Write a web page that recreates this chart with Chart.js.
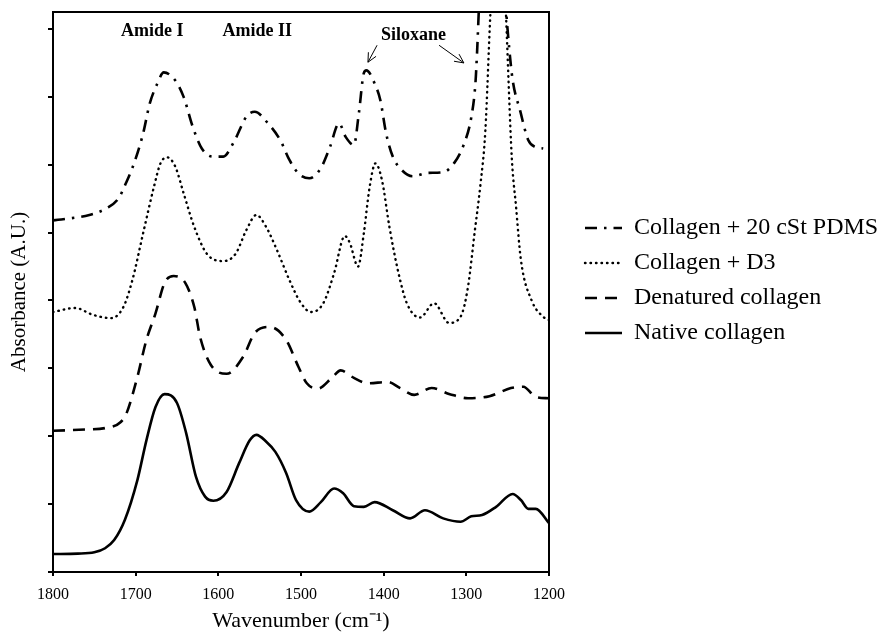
<!DOCTYPE html>
<html>
<head>
<meta charset="utf-8">
<script src="https://cdn.jsdelivr.net/npm/chart.js@4.4.0/dist/chart.umd.min.js"></script>
<style>
  body { margin: 0; background: #fff; }
  #wrap { width: 879px; height: 633px; }
</style>
</head>
<body>
<div id="wrap"><canvas id="myChart"></canvas></div>
<script>
// wavenumbers (cm-1) and absorbance (offset, arbitrary units)
var nativeWn  = [1800, 1770, 1750, 1737, 1726, 1713, 1698, 1687, 1676, 1665, 1650, 1639, 1627, 1616, 1606, 1590, 1575, 1562, 1554, 1542, 1531, 1518, 1506, 1490, 1476, 1460, 1449, 1436, 1424, 1411, 1389, 1368, 1350, 1328, 1307, 1294, 1281, 1264, 1244, 1234, 1225, 1216, 1200];
var nativeAbs = [0.265, 0.27, 0.29, 0.35, 0.47, 0.77, 1.35, 1.94, 2.43, 2.62, 2.49, 2.05, 1.40, 1.11, 1.05, 1.18, 1.60, 1.94, 2.02, 1.92, 1.77, 1.46, 1.06, 0.89, 1.03, 1.23, 1.16, 0.97, 0.96, 1.03, 0.91, 0.79, 0.91, 0.79, 0.74, 0.82, 0.84, 0.96, 1.15, 1.06, 0.93, 0.93, 0.72];

var denatWn  = [1800, 1760, 1737, 1718, 1711, 1698, 1687, 1676, 1665, 1654, 1640, 1629, 1622, 1609, 1590, 1570, 1556, 1538, 1518, 1503, 1493, 1480, 1462, 1452, 1436, 1419, 1395, 1380, 1363, 1342, 1320, 1298, 1272, 1246, 1231, 1216, 1200];
var denatAbs = [2.08, 2.10, 2.12, 2.21, 2.34, 2.87, 3.42, 3.81, 4.26, 4.36, 4.26, 3.90, 3.46, 3.05, 2.92, 3.17, 3.52, 3.61, 3.42, 3.02, 2.78, 2.70, 2.87, 2.97, 2.86, 2.78, 2.80, 2.71, 2.61, 2.71, 2.62, 2.56, 2.59, 2.71, 2.73, 2.58, 2.56];

var d3Wn  = [1800, 1773, 1752, 1730, 1715, 1704, 1691, 1678, 1670, 1662, 1652, 1642, 1629, 1614, 1594, 1579, 1566, 1554, 1542, 1529, 1514, 1501, 1488, 1473, 1460, 1447, 1441, 1431, 1424, 1417, 1410, 1402, 1393, 1382, 1372, 1356, 1339, 1321, 1307, 1298, 1290, 1283, 1277, 1271, 1266, 1261, 1256, 1252, 1245, 1240, 1234, 1221, 1207, 1200];
var d3Abs = [3.83, 3.89, 3.79, 3.74, 3.90, 4.30, 4.99, 5.67, 6.02, 6.11, 5.97, 5.58, 5.08, 4.69, 4.58, 4.69, 5.04, 5.26, 5.08, 4.74, 4.30, 3.98, 3.83, 3.96, 4.40, 4.95, 4.85, 4.50, 4.99, 5.67, 6.02, 5.77, 5.08, 4.40, 3.96, 3.75, 3.96, 3.67, 3.76, 4.20, 5.00, 5.70, 6.50, 8.20, 9.30, 9.60, 9.30, 8.20, 6.10, 5.40, 4.60, 4.00, 3.76, 3.71];

var pdmsWn  = [1800, 1756, 1735, 1721, 1711, 1702, 1691, 1683, 1674, 1666, 1652, 1642, 1631, 1620, 1607, 1594, 1581, 1566, 1556, 1540, 1525, 1514, 1503, 1490, 1476, 1465, 1454, 1446, 1436, 1430, 1424, 1421, 1410, 1404, 1397, 1389, 1378, 1365, 1346, 1328, 1315, 1303, 1294, 1289, 1287, 1284, 1276, 1268, 1258, 1252, 1248, 1244, 1235, 1225, 1216, 1207];
var pdmsAbs = [5.18, 5.26, 5.36, 5.50, 5.75, 6.02, 6.46, 6.90, 7.19, 7.36, 7.24, 7.00, 6.56, 6.24, 6.12, 6.12, 6.34, 6.71, 6.78, 6.61, 6.36, 6.07, 5.87, 5.80, 5.95, 6.26, 6.61, 6.41, 6.29, 6.76, 7.35, 7.39, 7.17, 6.95, 6.46, 6.12, 5.92, 5.83, 5.88, 5.89, 6.02, 6.30, 6.70, 7.20, 7.66, 8.50, 9.60, 9.90, 9.60, 8.30, 7.70, 7.25, 6.80, 6.36, 6.26, 6.24];

var seriesNames = ['Native collagen', 'Denatured collagen', 'Collagen + D3', 'Collagen + 20 cSt PDMS'];

var xTicks = [1800, 1700, 1600, 1500, 1400, 1300, 1200];

// band labels and arrows, in data units
var labelText = ['Amide I', 'Amide II', 'Siloxane'];
var labelWn   = [1680, 1553, 1364];
var labelAbs  = [7.97, 7.97, 7.91];
var arrowFromWn  = [1408, 1333];
var arrowFromAbs = [7.76, 7.76];
var arrowToWn    = [1419, 1303];
var arrowToAbs   = [7.51, 7.50];

function pts(wn, ab) {
  return wn.map(function(w, i) { return {x: w, y: ab[i]}; });
}

var serif = '"Liberation Serif", "Times New Roman", serif';

var extras = {
  id: 'extras',
  afterLayout: function(chart) {
    // legend sits to the right of the plot box
    var lg = chart.legend;
    var a = chart.chartArea;
    var w = lg.width, h = lg.height;
    lg.left = a.right + 25;
    lg.right = lg.left + w;
    lg.top = 205;
    lg.bottom = lg.top + h;
  },
  afterDraw: function(chart) {
    var ctx = chart.ctx;
    var a = chart.chartArea;
    var sx = chart.scales.x, sy = chart.scales.y;
    ctx.save();
    ctx.strokeStyle = '#000';
    ctx.lineWidth = 2;
    ctx.strokeRect(a.left, a.top, a.right - a.left, a.bottom - a.top);

    ctx.fillStyle = '#000';
    ctx.font = 'bold 18px ' + serif;
    ctx.textAlign = 'center';
    ctx.textBaseline = 'middle';
    for (var i = 0; i < labelText.length; i++) {
      ctx.fillText(labelText[i], sx.getPixelForValue(labelWn[i]), sy.getPixelForValue(labelAbs[i]));
    }

    ctx.lineWidth = 1;
    for (var j = 0; j < arrowFromWn.length; j++) {
      var x1 = sx.getPixelForValue(arrowFromWn[j]), y1 = sy.getPixelForValue(arrowFromAbs[j]);
      var x2 = sx.getPixelForValue(arrowToWn[j]), y2 = sy.getPixelForValue(arrowToAbs[j]);
      var ang = Math.atan2(y2 - y1, x2 - x1);
      ctx.beginPath();
      ctx.moveTo(x1, y1);
      ctx.lineTo(x2, y2);
      ctx.moveTo(x2 - 10 * Math.cos(ang - 0.45), y2 - 10 * Math.sin(ang - 0.45));
      ctx.lineTo(x2, y2);
      ctx.lineTo(x2 - 10 * Math.cos(ang + 0.45), y2 - 10 * Math.sin(ang + 0.45));
      ctx.stroke();
    }
    ctx.restore();
  }
};

var ctx = document.getElementById('myChart').getContext('2d');
var myChart = new Chart(ctx, {
  type: 'line',
  data: {
    datasets: [{
      label: seriesNames[0],
      data: pts(nativeWn, nativeAbs),
      borderColor: '#000',
      borderWidth: 2.6
    }, {
      label: seriesNames[1],
      data: pts(denatWn, denatAbs),
      borderColor: '#000',
      borderWidth: 2.6,
      borderDash: [12, 8]
    }, {
      label: seriesNames[2],
      data: pts(d3Wn, d3Abs),
      borderColor: '#000',
      borderWidth: 2.4,
      borderCapStyle: 'round',
      borderDash: [0.5, 5]
    }, {
      label: seriesNames[3],
      data: pts(pdmsWn, pdmsAbs),
      borderColor: '#000',
      borderWidth: 2.6,
      borderDash: [12, 7, 2.5, 7]
    }]
  },
  options: {
    responsive: true,
    maintainAspectRatio: false,
    animation: false,
    layout: { padding: { top: 12, right: 330, left: 0, bottom: 0 } },
    elements: {
      point: { radius: 0 },
      line: { cubicInterpolationMode: 'monotone', fill: false }
    },
    plugins: {
      tooltip: { enabled: false },
      legend: {
        position: 'chartArea',
        align: 'start',
        reverse: true,
        labels: {
          usePointStyle: true,
          pointStyle: 'line',
          pointStyleWidth: 37,
          padding: 11,
          color: '#000',
          font: { family: serif, size: 24 },
          generateLabels: function(chart) {
            var items = Chart.defaults.plugins.legend.labels.generateLabels(chart);
            items.forEach(function(it) {
              var ds = chart.data.datasets[it.datasetIndex];
              it.lineDash = ds.borderDash || [];
              it.lineCap = ds.borderCapStyle || 'butt';
              it.lineWidth = ds.borderWidth;
              it.strokeStyle = ds.borderColor;
            });
            return items;
          }
        }
      }
    },
    scales: {
      x: {
        type: 'linear',
        reverse: true,
        min: 1200,
        max: 1800,
        afterFit: function(axis) { axis.height = 61; },
        afterBuildTicks: function(axis) {
          axis.ticks = xTicks.map(function(v) { return {value: v}; });
        },
        ticks: {
          color: '#000',
          padding: 9,
          maxRotation: 0,
          font: { family: serif, size: 16 },
          callback: function(v) { return String(v); }
        },
        grid: { drawOnChartArea: false, drawTicks: true, tickLength: 4, color: '#000', lineWidth: 2 },
        border: { display: true, color: '#000', width: 2 },
        title: {
          display: true,
          text: 'Wavenumber (cm\u207B\u00B9)',
          color: '#000',
          padding: { top: 0, bottom: 1 },
          font: { family: serif, size: 22, lineHeight: 1 }
        }
      },
      y: {
        min: 0,
        max: 8.25,
        afterFit: function(axis) { axis.width = 53; },
        ticks: { display: false, stepSize: 1, includeBounds: false },
        grid: { drawOnChartArea: false, drawTicks: true, tickLength: 5, color: '#000', lineWidth: 2 },
        border: { display: true, color: '#000', width: 2 },
        title: {
          display: true,
          text: 'Absorbance (A.U.)',
          color: '#000',
          padding: { top: 7, bottom: 0 },
          font: { family: serif, size: 21, lineHeight: 1.2 }
        }
      }
    }
  },
  plugins: [extras]
});
</script>
</body>
</html>
